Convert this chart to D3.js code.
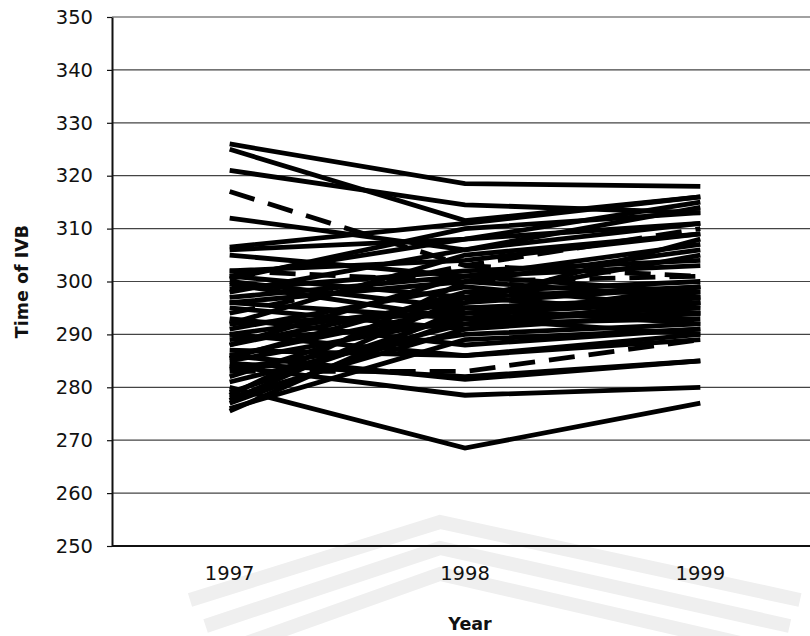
<!DOCTYPE html>
<html>
<head>
<meta charset="utf-8">
<script src="https://cdn.jsdelivr.net/npm/d3@7"></script>
<style>
  html, body { margin: 0; padding: 0; background: #fff; overflow: hidden; }
  svg { display: block; overflow: hidden; }
  text { font-family: "DejaVu Sans", Verdana, sans-serif; fill: #111; }
</style>
</head>
<body>
<svg id="chart" width="810" height="636"></svg>
<script>
// ---- data ----
const years = ["1997", "1998", "1999"];
const yTicks = [250, 260, 270, 280, 290, 300, 310, 320, 330, 340, 350];
const yLabel = "Time of IVB";
const xLabel = "Year";
// each row: [1997, 1998, 1999]
const s01 = [326, 318.5, 318];
const s02 = [325, 311.5, 316];
const s03 = [321, 314.5, 313];
const s04 = [317, 303, 310];
const s05 = [312, 306, 311];
const s06 = [306.5, 311, 316];
const s07 = [306, 308, 315];
const s08 = [305, 301, 307];
const s09 = [302, 304, 309];
const s10 = [301, 297, 305];
const s11 = [300.5, 310, 313];
const s12 = [299.5, 293, 299];
const s13 = [298, 306, 314];
const s14 = [296, 300, 306];
const s15 = [295, 291, 297];
const s16 = [294, 303, 301];
const s17 = [292, 294, 296];
const s18 = [291, 299, 295];
const s19 = [290, 296, 308];
const s20 = [289, 292, 293];
const s21 = [288, 301, 298];
const s22 = [287, 286, 290];
const s23 = [286, 295, 297];
const s24 = [285.5, 298, 300];
const s25 = [285, 293, 294];
const s26 = [284.5, 282, 285];
const s27 = [284, 278.5, 280];
const s28 = [283.5, 290, 292];
const s29 = [283, 283, 289];
const s30 = [282, 296, 299];
const s31 = [281, 292, 296];
const s32 = [280, 268.5, 277];
const s33 = [279, 294, 298];
const s34 = [278.5, 300, 297];
const s35 = [278, 291, 294];
const s36 = [277.5, 297, 299];
const s37 = [277, 293, 295];
const s38 = [276, 289, 291];
const s39 = [275.5, 295, 296];
const s40 = [286, 281.5, 285];
const s41 = [302, 300, 301];
const s42 = [300, 295, 292];
const s43 = [297, 301, 303];
const s44 = [293, 288, 291];
const s45 = [292, 305, 309];
const s46 = [296, 293, 290];
const s47 = [288, 297, 294];
const s48 = [298.5, 302, 304];
const s49 = [290, 286, 289];
const s50 = [301, 308, 311];
const series = [s01,s02,s03,s04,s05,s06,s07,s08,s09,s10,s11,s12,s13,s14,s15,s16,s17,s18,s19,s20,
                s21,s22,s23,s24,s25,s26,s27,s28,s29,s30,s31,s32,s33,s34,s35,s36,s37,s38,s39,s40,
                s41,s42,s43,s44,s45,s46,s47,s48,s49,s50];
// series drawn with dashed strokes
const dashedSeries = [3, 15, 28, 40];

(function draw() {
  const svg = d3.select("#chart");
  const W = 810;
  const mLeft = 112, mTop = 17, mBottom = 546, plotW = 706;

  // faint background watermark (scanned page)
  const wm = svg.append("g").attr("fill", "none").attr("stroke", "#efefef")
    .attr("stroke-width", 14).attr("stroke-linejoin", "miter");
  [0, 26, 52].forEach(o => {
    wm.append("path").attr("d", `M${190 + o * 0.6},${600 + o} L440,${522 + o} L${800 - o * 0.4},${600 + o}`);
  });

  const x = d3.scaleBand().domain(years).range([mLeft, mLeft + plotW]).padding(0);
  const xc = d => x(d) + x.bandwidth() / 2;
  const y = d3.scaleLinear().domain([250, 350]).range([mBottom, mTop]);

  // gridlines
  svg.append("g")
    .selectAll("line")
    .data(yTicks.filter(t => t !== 250))
    .join("line")
    .attr("x1", mLeft).attr("x2", W)
    .attr("y1", d => y(d)).attr("y2", d => y(d))
    .attr("stroke", "#444").attr("stroke-width", 1.2);

  // lines
  const line = d3.line().x((d, i) => xc(years[i])).y(d => y(d));
  svg.append("g")
    .selectAll("path")
    .data(series)
    .join("path")
    .attr("d", d => line(d))
    .attr("fill", "none")
    .attr("stroke", "#000")
    .attr("stroke-width", 4.8)
    .attr("stroke-linejoin", "miter")
    .attr("stroke-dasharray", (d, i) => dashedSeries.includes(i) ? "26,14" : null);

  // y axis
  const yAxis = d3.axisLeft(y).tickValues(yTicks).tickSize(5).tickSizeOuter(0)
    .tickPadding(14).tickFormat(d3.format("d"));
  const gy = svg.append("g").attr("transform", `translate(${mLeft},0)`).call(yAxis);
  gy.select(".domain").attr("stroke", "#111").attr("stroke-width", 2);
  gy.selectAll(".tick line").attr("stroke", "#111").attr("stroke-width", 1.2);
  gy.selectAll(".tick text").attr("font-size", 19.5).attr("fill", "#111")
    .attr("font-family", "DejaVu Sans, sans-serif");

  // x axis (labels from the axis, baseline drawn to the visible edge)
  const xAxis = d3.axisBottom(x).tickSize(0).tickSizeOuter(0).tickPadding(20);
  const gx = svg.append("g").attr("transform", `translate(0,${mBottom})`).call(xAxis);
  gx.select(".domain").remove();
  gx.append("line").attr("x1", mLeft).attr("x2", W).attr("y1", 0).attr("y2", 0)
    .attr("stroke", "#111").attr("stroke-width", 2);
  gx.selectAll(".tick text").attr("font-size", 19.5).attr("fill", "#111")
    .attr("font-family", "DejaVu Sans, sans-serif");

  // axis titles
  svg.append("text")
    .attr("transform", `translate(28,${(mTop + mBottom) / 2}) rotate(-90)`)
    .attr("text-anchor", "middle")
    .attr("font-weight", "bold")
    .attr("font-size", 17.5)
    .text(yLabel);

  svg.append("text")
    .attr("x", 470).attr("y", 630)
    .attr("text-anchor", "middle")
    .attr("font-weight", "bold")
    .attr("font-size", 17.5)
    .text(xLabel);
})();
</script>
</body>
</html>
